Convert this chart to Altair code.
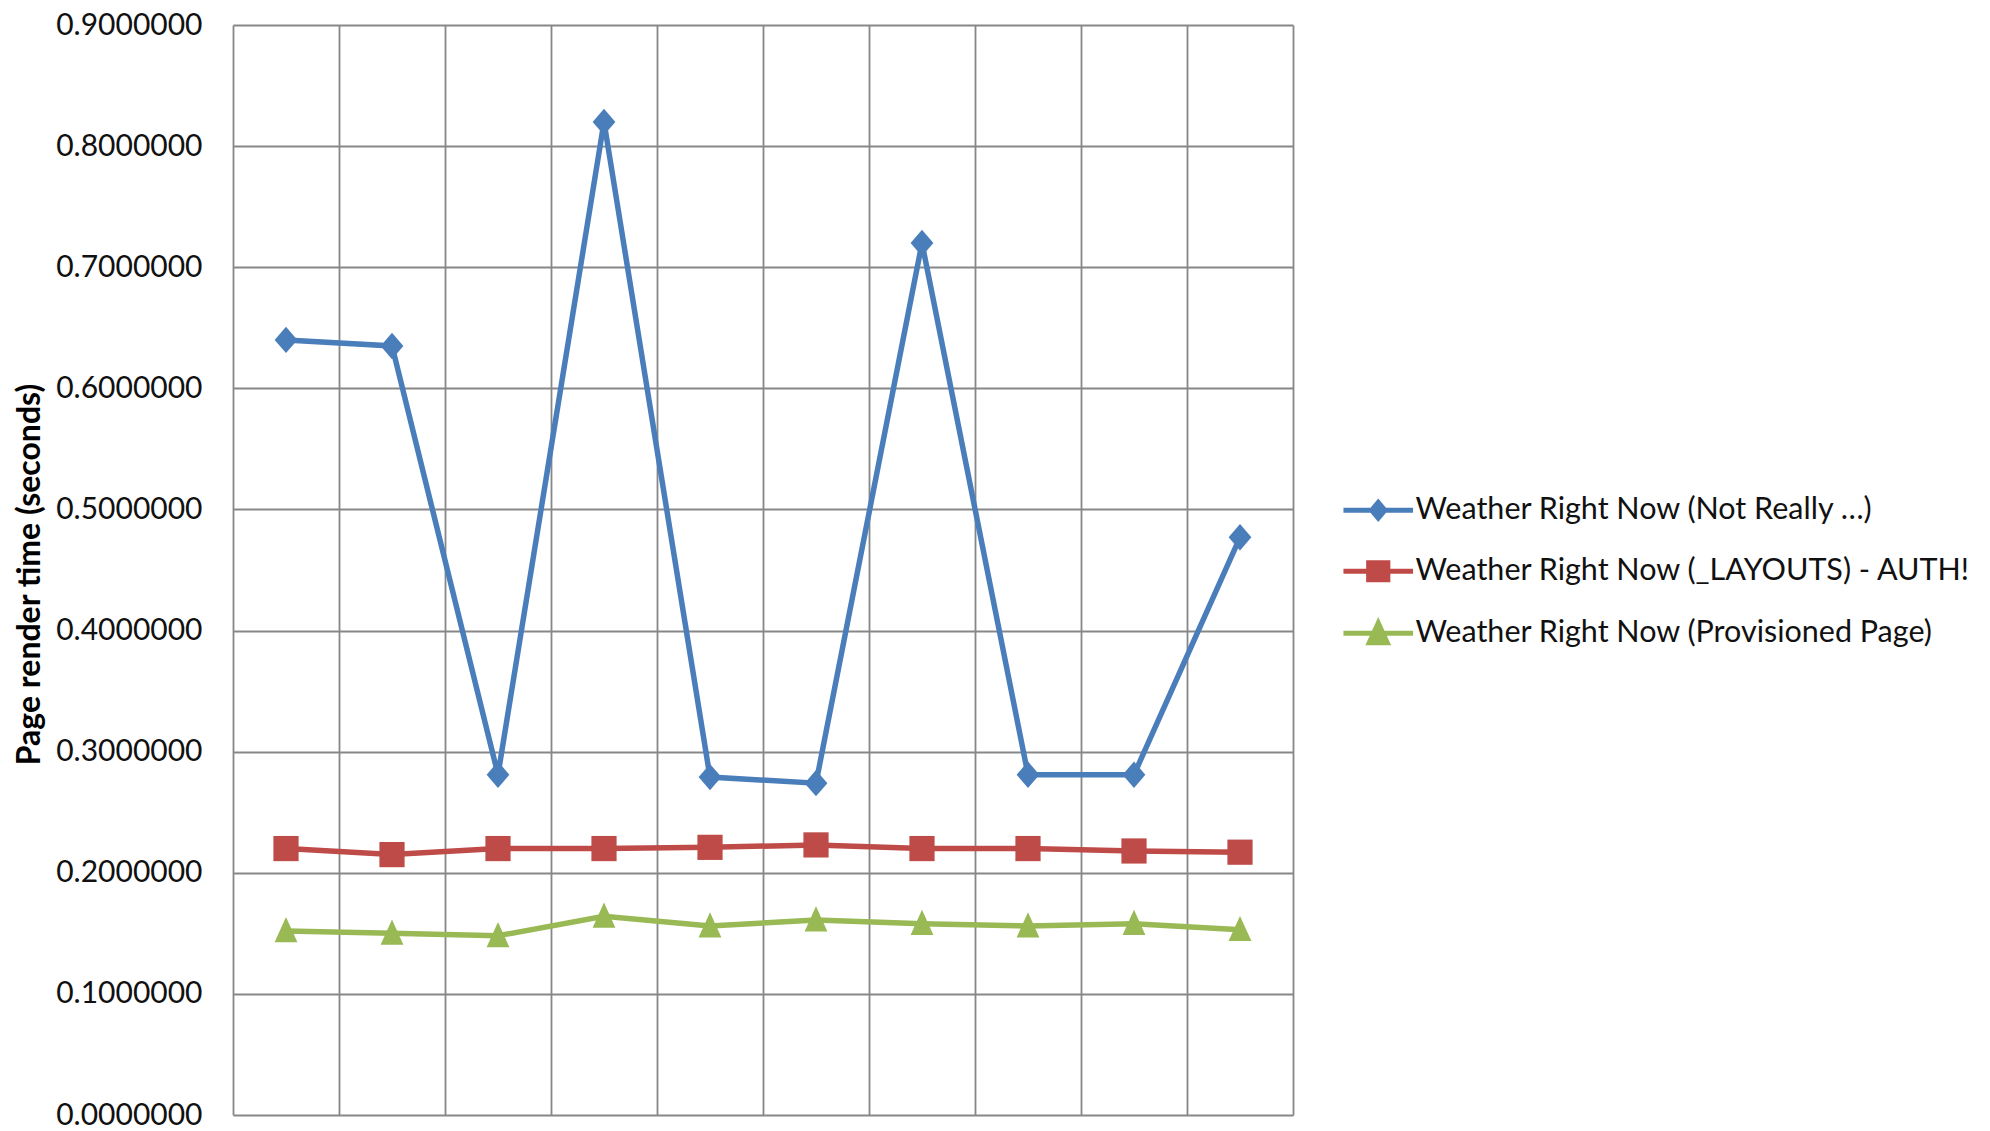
import altair as alt
import pandas as pd

series_names = [
    "Weather Right Now (Not Really …)",
    "Weather Right Now (_LAYOUTS) - AUTH!",
    "Weather Right Now (Provisioned Page)",
]
series_colors = ["#4A7EBB", "#BE4B48", "#98B954"]
run_index = [1, 2, 3, 4, 5, 6, 7, 8, 9, 10]
not_really = [0.640, 0.635, 0.281, 0.820, 0.279, 0.274, 0.720, 0.281, 0.281, 0.477]
layouts_auth = [0.220, 0.215, 0.220, 0.220, 0.221, 0.223, 0.220, 0.220, 0.218, 0.217]
provisioned = [0.152, 0.150, 0.148, 0.164, 0.156, 0.161, 0.158, 0.156, 0.158, 0.153]
y_ticks = [0.0, 0.1, 0.2, 0.3, 0.4, 0.5, 0.6, 0.7, 0.8, 0.9]

rows = []
for name, vals in zip(series_names, [not_really, layouts_auth, provisioned]):
    for i, v in zip(run_index, vals):
        rows.append({"run": i, "time": v, "series": name})
df = pd.DataFrame(rows)

x_bounds = [i - 0.5 for i in run_index] + [run_index[-1] + 0.5]

marker_paths = [
    "M0,-1.1L0.95,0L0,1.1L-0.95,0Z",
    "M-1.05,-1.05H1.05V1.05H-1.05Z",
    "M0,-1.15L0.95,0.95L-0.95,0.95Z",
]
legend_paths = [
    "M-2.9,0H2.9M0,-0.65L0.55,0L0,0.65L-0.55,0Z",
    "M-2.9,0H2.9M-0.8,-0.7H0.8V0.7H-0.8Z",
    "M-2.9,0H2.9M0,-0.85L0.75,0.8L-0.75,0.8Z",
]

color_scale = alt.Scale(domain=series_names, range=series_colors)

x_enc = alt.X(
    "run:Q",
    scale=alt.Scale(domain=[x_bounds[0], x_bounds[-1]], nice=False, zero=False),
    axis=alt.Axis(values=x_bounds, labels=False, ticks=False, domain=False,
                  grid=True, title=None, gridColor="#878787", gridWidth=1.8),
)
y_enc = alt.Y(
    "time:Q",
    scale=alt.Scale(domain=[0, 0.9], nice=False),
    axis=alt.Axis(values=y_ticks, format=".7f", ticks=False, domain=False,
                  grid=True, gridColor="#878787", gridWidth=1.8,
                  labelPadding=31, labelFont="Lato", labelFontSize=30,
                  labelColor="#111111",
                  title="Page render time (seconds)", titleFont="Lato",
                  titleFontSize=32, titleFontWeight="bold", titleColor="#000000",
                  titleAngle=-90, titleX=-204, titleY=549, titleAlign="center",
                  titleBaseline="middle"),
)

legend = alt.Legend(
    title=None, orient="none", legendX=1130, legendY=470, padding=0,
    labelFont="Lato", labelFontSize=30.5, labelColor="#111111", labelOffset=22,
    symbolSize=576, symbolStrokeWidth=5, rowPadding=23, labelLimit=800,
    symbolOpacity=1,
)

legend_layer = (
    alt.Chart(df).transform_filter("false")
    .mark_point(filled=True, size=576, strokeWidth=5, opacity=1)
    .encode(
        x=x_enc, y=y_enc,
        color=alt.Color("series:N", scale=color_scale, legend=legend),
        stroke=alt.Stroke("series:N", scale=color_scale, legend=legend),
        shape=alt.Shape("series:N", scale=alt.Scale(domain=series_names, range=legend_paths),
                        legend=legend),
    )
)

lines = alt.Chart(df).mark_line(strokeWidth=5.5).encode(
    x=x_enc, y=y_enc,
    color=alt.Color("series:N", scale=color_scale, legend=legend),
    detail="series:N",
)

point_layers = []
for name, path in zip(series_names, marker_paths):
    point_layers.append(
        alt.Chart(df).transform_filter(alt.datum.series == name)
        .mark_point(filled=True, size=576, opacity=1, shape=path)
        .encode(x=x_enc, y=y_enc,
                color=alt.Color("series:N", scale=color_scale, legend=legend))
    )

chart = (
    alt.layer(legend_layer, lines, *point_layers)
    .properties(
        width=1060, height=1090,
        autosize=alt.AutoSizeParams(type="none"),
        padding={"left": 225, "top": 17, "right": 689, "bottom": 24},
        background="#ffffff",
    )
    .configure_view(strokeWidth=0)
)

chart.save("out.html", embed_options={"renderer": "svg", "actions": False})
